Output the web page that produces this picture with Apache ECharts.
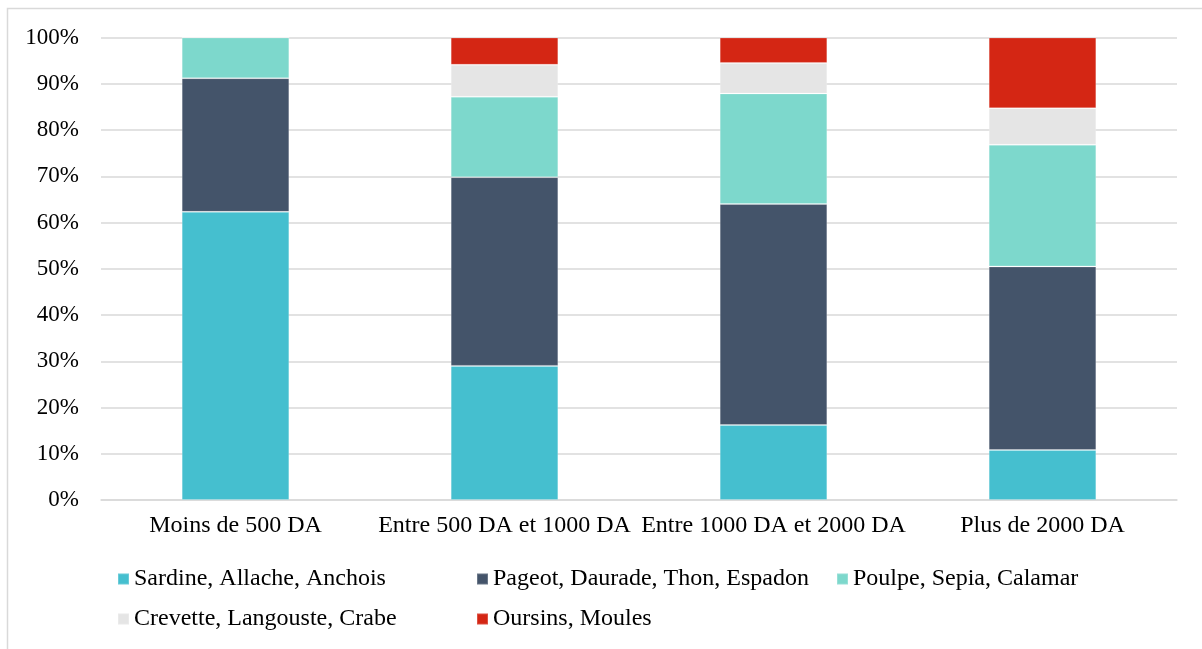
<!DOCTYPE html>
<html>
<head>
<meta charset="utf-8">
<script src="https://cdn.jsdelivr.net/npm/echarts@6/dist/echarts.min.js"></script>
<style>
html,body{margin:0;padding:0;background:#fff;}
#c{width:1202px;height:649px;}
</style>
</head>
<body>
<div id="c"></div>
<script>
const categories = ['Moins de 500 DA', 'Entre 500 DA et 1000 DA', 'Entre 1000 DA et 2000 DA', 'Plus de 2000 DA'];
const seriesNames = ['Sardine, Allache, Anchois', 'Pageot, Daurade, Thon, Espadon', 'Poulpe, Sepia, Calamar', 'Crevette, Langouste, Crabe', 'Oursins, Moules'];
const sardine  = [62.3, 29.0, 16.2, 10.8];
const pageot   = [28.9, 40.8, 47.8, 39.7];
const poulpe   = [8.8, 17.4, 23.9, 26.3];
const crevette = [0, 6.9, 6.6, 7.9];
const oursins  = [0, 5.9, 5.5, 15.3];
const yTicks = [0, 10, 20, 30, 40, 50, 60, 70, 80, 90, 100];

const colors = ['#45BFCF', '#44546A', '#7DD8CC', '#E5E5E5', '#D42614'];
const values = [sardine, pageot, poulpe, crevette, oursins];
const font = '"Liberation Serif", "Times New Roman", serif';

const chart = echarts.init(document.getElementById('c'), null, {renderer: 'canvas'});

const legendPos = [
  {left: 117, top: 567},
  {left: 476, top: 567},
  {left: 836, top: 567},
  {left: 117, top: 607},
  {left: 476, top: 607}
];

const option = {
  animation: false,
  backgroundColor: '#ffffff',
  textStyle: {fontFamily: font},
  graphic: [{
    type: 'rect',
    shape: {x: 7.5, y: 8.5, width: 1300, height: 1000},
    style: {fill: 'none', stroke: '#D9D9D9', lineWidth: 1.5},
    silent: true
  }],
  grid: {left: 101, right: 25, top: 37.5, bottom: 149, containLabel: false},
  legend: seriesNames.map((n, i) => ({
    data: [n],
    left: legendPos[i].left,
    top: legendPos[i].top,
    padding: 0,
    itemWidth: 11,
    itemHeight: 11,
    icon: 'rect',
    selectedMode: false,
    textStyle: {fontFamily: font, fontSize: 24, color: '#000', lineHeight: 24}
  })),
  xAxis: {
    type: 'category',
    data: categories,
    axisLine: {show: true, lineStyle: {color: '#D9D9D9', width: 1.5}},
    axisTick: {show: false},
    axisLabel: {fontFamily: font, fontSize: 24, color: '#000', margin: 14, interval: 0}
  },
  yAxis: {
    type: 'value',
    min: 0, max: 100, interval: 10,
    axisLine: {show: false},
    axisTick: {show: false},
    splitLine: {lineStyle: {color: '#D9D9D9', width: 1.5}},
    axisLabel: {
      fontFamily: font, fontSize: 23, color: '#000', margin: 22,
      formatter: v => yTicks.includes(v) ? v + '%' : ''
    }
  },
  series: seriesNames.map((n, i) => ({
    name: n,
    type: 'bar',
    stack: 'total',
    barWidth: '40%',
    data: values[i],
    itemStyle: {color: colors[i], borderColor: 'rgba(255,255,255,0.2)', borderWidth: 1},
    emphasis: {disabled: true}
  }))
};
chart.setOption(option);
</script>
</body>
</html>
